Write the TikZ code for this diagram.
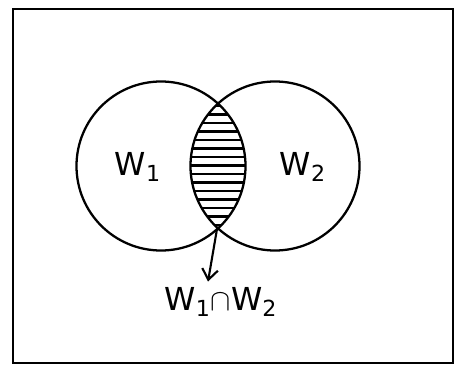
\documentclass[tikz,border=0pt]{standalone}
\usepackage{fontspec}
\setsansfont{DejaVu Sans}
\usetikzlibrary{arrows.meta, positioning}
\tikzset{
  setcirc/.style={circle, draw=black, line width=1.3pt,
    minimum size=3.38cm, inner sep=0pt},
  setlabel/.style={font=\sffamily\fontsize{18}{20}\selectfont},
  arrow/.style={-{Straight Barb[length=6pt,width=9pt]}, line width=1.2pt},
  hatch/.style={line width=1.2pt},
}

\begin{document}
\begin{tikzpicture}
  \useasboundingbox (0,0) rectangle (9.16,-7.34);
  \draw[line width=1.3pt] (0.26,-0.18) rectangle (9.06,-7.26);

  \node[setcirc] (w1) at (3.22,-3.32) {};
  \node[setcirc] (w2) at (5.50,-3.32) {};

  % hatched intersection
  \begin{scope}
    \clip (w1.center) circle (1.69cm);
    \clip (w2.center) circle (1.69cm);
    \foreach \y in {-1.95,-2.12,...,-4.70}
      \draw[hatch] (3.5,\y) -- (5.2,\y);
  \end{scope}

  \node[setlabel] (l1) at (2.76,-3.34) {W\textsubscript{1}};
  \node[setlabel] (l2) at (6.06,-3.34) {W\textsubscript{2}};

  \coordinate (meet) at (4.34,-4.58);
  \node[setlabel, below=1.05cm of meet, xshift=0.08cm] (cap)
    {W\textsubscript{1}$\cap$W\textsubscript{2}};
  \draw[arrow] (meet) -- ([xshift=-0.26cm]cap.north);
\end{tikzpicture}
\end{document}
